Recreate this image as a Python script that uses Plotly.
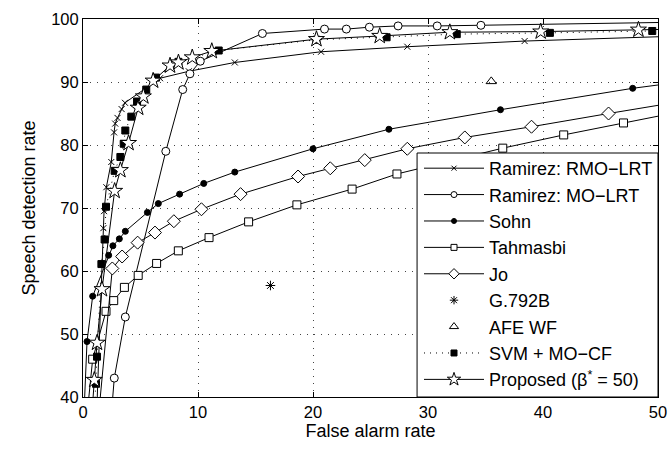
import plotly.graph_objects as go

# ---- data ----
rmo_x = [1.2, 1.77, 1.83, 2.03, 2.46, 2.7, 2.8, 3.0, 3.36, 3.65, 6.7, 9.2, 13.2, 20.7, 28.2, 38.4, 52]
rmo_y = [38, 66.8, 69.5, 73.3, 77.3, 82.0, 83.4, 84.3, 85.7, 86.7, 90.6, 91.7, 93.1, 94.8, 95.6, 96.5, 97.3]

mo_x = [2.5, 2.72, 3.68, 7.2, 8.67, 9.3, 10.2, 15.6, 21.0, 22.9, 24.9, 27.4, 30.8, 34.6, 52]
mo_y = [38, 43.0, 52.7, 79.0, 88.8, 91.3, 93.3, 97.7, 98.4, 98.4, 98.7, 98.9, 98.9, 99.0, 99.5]

sohn_x = [0.1, 0.35, 0.84, 2.23, 2.6, 3.16, 3.68, 5.6, 6.55, 8.4, 10.5, 13.2, 20.0, 26.6, 36.3, 47.8, 52]
sohn_y = [38, 48.8, 56.0, 62.5, 64.0, 65.1, 66.3, 69.3, 70.7, 72.2, 73.9, 75.7, 79.4, 82.5, 85.6, 89.0, 90.0]

tah_x = [0.4, 0.84, 2.0, 2.67, 3.6, 4.8, 6.4, 8.29, 10.96, 14.4, 18.6, 23.4, 27.3, 36.5, 41.8, 47.0, 52]
tah_y = [38, 46.0, 53.6, 55.3, 57.4, 59.3, 61.2, 63.2, 65.3, 67.8, 70.5, 73.0, 75.4, 79.5, 81.6, 83.5, 85.3]

jo_x = [1.4, 2.55, 3.4, 4.75, 6.26, 7.9, 10.3, 13.7, 18.7, 21.5, 24.5, 28.2, 33.2, 39.0, 45.7, 52]
jo_y = [38, 60.4, 62.3, 64.5, 66.1, 67.9, 69.8, 72.2, 75.0, 76.3, 77.6, 79.4, 81.2, 82.9, 85.0, 86.9]

g792_x = [16.3]
g792_y = [57.7]

afe_x = [35.5]
afe_y = [90.1]

svm_x = [1.0, 1.13, 1.22, 1.6, 1.88, 2.0, 2.75, 3.25, 3.54, 3.68, 4.2, 4.7, 5.5, 6.35, 8.3, 11.8, 20.3, 26.4, 32.5, 40.6, 49.5]
svm_y = [38, 42.1, 46.4, 61.1, 65.0, 70.2, 75.9, 78.1, 80.2, 82.3, 84.5, 86.9, 88.8, 90.7, 93.2, 95.0, 96.7, 97.1, 97.6, 97.8, 98.1]

prop_x = [0.8, 0.98, 1.22, 1.65, 2.75, 3.25, 3.96, 4.8, 5.25, 6.1, 7.57, 8.3, 9.5, 11.2, 20.3, 25.8, 31.9, 39.8, 48.3, 52]
prop_y = [38, 42.7, 48.6, 57.1, 72.7, 76.0, 80.3, 85.9, 87.7, 90.2, 92.6, 93.1, 93.9, 94.9, 96.8, 97.3, 97.9, 98.0, 98.3, 98.4]

x_ticks = [0, 10, 20, 30, 40, 50]
y_ticks = [40, 50, 60, 70, 80, 90, 100]

series_names = ["Ramirez: RMO\u2212LRT", "Ramirez: MO\u2212LRT", "Sohn", "Tahmasbi", "Jo",
                "G.792B", "AFE WF", "SVM + MO\u2212CF", "Proposed (\u03b2<sup>*</sup> = 50)"]

FONT = "Liberation Sans, Arial, sans-serif"
BLK = "black"

# (symbol, plot size, legend size, fill, mode, dash)
styles = [
    ("x-thin", 6, 5, BLK, "lines+markers", "solid"),
    ("circle", 8, 6, "white", "lines+markers", "solid"),
    ("circle", 6, 5, BLK, "lines+markers", "solid"),
    ("square", 8, 6, "white", "lines+markers", "solid"),
    ("diamond", 10, 8, "white", "lines+markers", "solid"),
    ("asterisk-open", 8, 7, BLK, "markers", "solid"),
    ("triangle-up-open", 9, 8, BLK, "markers", "solid"),
    ("square", 7, 6, BLK, "lines+markers", "1px,5px"),
    ("star", 12, 10, "white", "lines+markers", "solid"),
]
data_xy = [(rmo_x, rmo_y), (mo_x, mo_y), (sohn_x, sohn_y), (tah_x, tah_y), (jo_x, jo_y),
           (g792_x, g792_y), (afe_x, afe_y), (svm_x, svm_y), (prop_x, prop_y)]

fig = go.Figure()

for (x, y), name, (sym, size, lsize, fill, mode, dash) in zip(data_xy, series_names, styles):
    fig.add_trace(go.Scatter(
        x=x, y=y, name=name, mode=mode, showlegend=False,
        line=dict(color=BLK, width=1, dash=dash),
        marker=dict(symbol=sym, size=size, color=fill, line=dict(color=BLK, width=1)),
    ))
    fig.add_trace(go.Scatter(
        x=[None], y=[None], name=name, mode=mode, showlegend=True,
        line=dict(color=BLK, width=1, dash=dash),
        marker=dict(symbol=sym, size=lsize, color=fill, line=dict(color=BLK, width=1)),
    ))

axis_common = dict(
    showline=True, linecolor=BLK, linewidth=1, mirror="ticks",
    ticks="inside", ticklen=5, tickcolor=BLK, automargin=False,
    showgrid=True, gridcolor="#444", gridwidth=1, griddash="1px,6px",
    zeroline=False, tickfont=dict(family=FONT, size=16.5, color=BLK),
)

fig.update_xaxes(range=[0, 50], tickvals=x_ticks,
                 title=dict(text="False alarm rate", font=dict(family=FONT, size=18, color=BLK), standoff=4),
                 **axis_common)
fig.update_yaxes(range=[40, 100], tickvals=y_ticks,
                 title=dict(text="Speech detection rate", font=dict(family=FONT, size=18, color=BLK), standoff=10),
                 **axis_common)

# legend box (opaque panel in the lower right of the axes)
fig.add_shape(type="rect", xref="paper", yref="paper",
              x0=0.581, x1=1.0, y0=0.0, y1=0.6455,
              fillcolor="white", line=dict(color=BLK, width=1), layer="above")

fig.update_layout(
    width=670, height=449,
    margin=dict(l=83, r=12, t=19, b=52, autoexpand=False),
    plot_bgcolor="white", paper_bgcolor="white",
    font=dict(family=FONT, size=18, color=BLK),
    legend=dict(x=1.0, y=0.6535, xanchor="right", yanchor="top",
                bgcolor="rgba(0,0,0,0)", borderwidth=0,
                font=dict(family=FONT, size=18, color=BLK),
                itemwidth=60, tracegroupgap=0),
    showlegend=True,
)

fig.write_html("out.html")
